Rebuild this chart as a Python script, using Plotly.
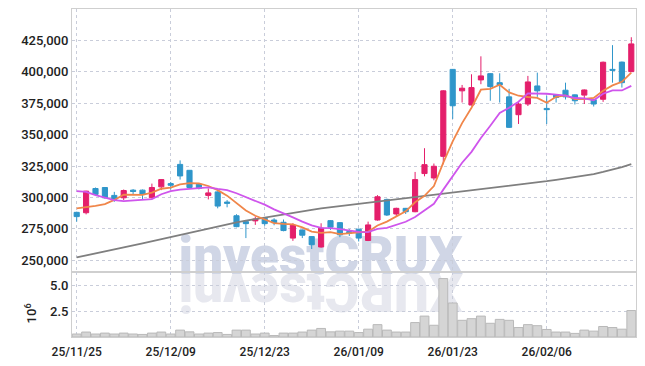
import plotly.graph_objects as go
from plotly.subplots import make_subplots

# ---------------- data ----------------
dates = [
    "25/11/25", "25/11/26", "25/11/27", "25/11/28", "25/12/01", "25/12/02", "25/12/03", "25/12/04",
    "25/12/05", "25/12/08", "25/12/09", "25/12/10", "25/12/11", "25/12/12", "25/12/15", "25/12/16",
    "25/12/17", "25/12/18", "25/12/19", "25/12/22", "25/12/23", "25/12/24", "25/12/26", "25/12/29",
    "25/12/30", "26/01/02", "26/01/05", "26/01/06", "26/01/07", "26/01/08", "26/01/09", "26/01/12",
    "26/01/13", "26/01/14", "26/01/15", "26/01/16", "26/01/19", "26/01/20", "26/01/21", "26/01/22",
    "26/01/23", "26/01/26", "26/01/27", "26/01/28", "26/01/29", "26/01/30", "26/02/02", "26/02/03",
    "26/02/04", "26/02/05", "26/02/06", "26/02/09", "26/02/10", "26/02/11", "26/02/12", "26/02/13",
    "26/02/19", "26/02/20", "26/02/23", "26/02/24",
]

# prices in thousands of won
open_k = [
    288.1, 287.8, 307.1, 307.9, 301.6, 299.7, 305.8, 305.8, 299.7, 308.4,
    311.0, 326.3, 321.6, 310.5, 301.6, 304.4, 296.3, 285.4, 280.7, 281.3,
    283.4, 282.0, 280.2, 267.6, 274.1, 268.8, 260.5, 281.5, 279.9, 272.8,
    274.7, 265.7, 282.0, 298.4, 286.8, 291.3, 288.6, 319.0, 315.5, 332.7,
    402.0, 384.9, 373.6, 393.6, 398.6, 391.4, 380.1, 365.9, 374.4, 388.8,
    370.9, 381.7, 385.4, 381.7, 381.5, 377.8, 378.2, 402.0, 407.8, 400.2,
]
high_k = [
    288.6, 305.3, 307.9, 308.2, 304.4, 306.3, 306.6, 306.3, 311.0, 314.6,
    312.3, 329.5, 321.6, 310.8, 307.1, 304.9, 297.9, 286.6, 281.0, 284.7,
    283.8, 283.4, 282.4, 279.4, 274.4, 269.2, 279.4, 282.0, 280.4, 274.7,
    275.0, 280.7, 301.8, 299.0, 291.8, 291.6, 320.3, 339.2, 327.0, 385.4,
    402.3, 389.6, 398.1, 412.4, 399.0, 398.9, 386.5, 376.5, 396.8, 399.4,
    381.0, 382.0, 391.4, 382.0, 386.0, 378.2, 408.2, 421.3, 408.2, 427.6,
]
low_k = [
    280.7, 286.5, 301.8, 299.0, 296.5, 297.9, 302.4, 297.9, 299.2, 305.8,
    306.3, 314.2, 307.9, 306.3, 298.4, 291.3, 292.1, 276.2, 267.6, 278.1,
    277.5, 277.8, 273.0, 265.4, 267.6, 258.9, 260.0, 274.1, 268.3, 269.3,
    264.9, 265.2, 281.5, 285.2, 284.7, 286.8, 288.2, 316.8, 313.6, 326.4,
    362.5, 375.6, 373.2, 390.2, 377.0, 375.6, 355.3, 358.5, 372.8, 380.1,
    358.5, 375.6, 378.0, 374.0, 374.4, 372.4, 376.1, 391.4, 387.5, 399.8,
]
close_k = [
    284.7, 305.0, 302.4, 299.7, 298.4, 305.5, 304.7, 302.4, 307.9, 314.2,
    309.7, 317.1, 307.9, 307.1, 303.6, 293.1, 295.3, 276.7, 279.1, 282.8,
    279.1, 279.9, 273.6, 277.8, 269.9, 262.3, 275.5, 276.3, 270.2, 271.5,
    267.6, 278.1, 300.5, 286.0, 291.3, 288.6, 314.2, 326.1, 324.8, 384.9,
    373.0, 387.0, 387.5, 396.8, 388.3, 389.6, 355.8, 374.4, 392.0, 384.9,
    369.9, 379.6, 380.1, 377.0, 385.6, 374.4, 407.7, 401.3, 391.4, 422.3,
]

# moving average lines (thousands of won)
ma_short_k = [
    291.3, 292.1, 293.3, 294.7, 298.0, 302.2, 302.1, 302.1, 303.8, 306.9,
    307.8, 310.3, 311.4, 311.2, 309.1, 305.8, 301.4, 295.2, 289.6, 285.4,
    282.6, 279.5, 278.9, 278.6, 276.1, 272.7, 271.8, 272.4, 270.8, 271.2,
    272.2, 272.7, 277.6, 280.7, 284.7, 288.9, 296.1, 301.2, 309.0, 327.7,
    344.6, 359.2, 371.4, 385.8, 386.5, 389.8, 383.6, 381.0, 380.0, 379.3,
    375.4, 380.2, 381.3, 378.3, 378.4, 379.3, 385.0, 389.2, 392.1, 399.4,
]
ma_mid_k = [
    305.0, 304.4, 301.8, 299.7, 297.9, 297.1, 297.6, 297.9, 298.7, 302.5,
    305.0, 306.2, 306.8, 307.5, 308.0, 306.8, 305.8, 303.3, 300.4, 297.2,
    294.2, 290.5, 287.0, 284.1, 280.7, 277.7, 275.7, 275.6, 274.7, 273.6,
    272.5, 272.3, 275.0, 275.8, 277.9, 280.6, 284.4, 289.4, 294.9, 306.2,
    316.8, 327.6, 336.3, 347.4, 357.1, 367.2, 371.4, 376.2, 382.9, 382.9,
    382.6, 381.9, 381.1, 379.2, 378.9, 377.4, 382.6, 385.3, 385.2, 388.9,
]
ma_long_k = [
    252.2, 253.7, 255.3, 256.9, 258.5, 260.1, 261.7, 263.3, 265.0, 266.7,
    268.4, 270.2, 272.0, 273.8, 275.5, 277.2, 278.8, 280.2, 281.5, 282.8,
    284.1, 285.3, 286.5, 287.7, 288.9, 290.1, 291.2, 292.1, 293.0, 293.8,
    294.6, 295.4, 296.2, 297.0, 297.9, 298.9, 299.9, 300.8, 301.7, 302.6,
    303.4, 304.3, 305.2, 306.1, 307.0, 307.9, 308.9, 309.9, 311.0, 312.0,
    312.9, 314.0, 315.0, 316.0, 317.2, 318.6, 320.3, 322.1, 324.2, 326.5,
]

# volume in millions of shares
volume_m = [
    0.29, 0.48, 0.29, 0.38, 0.29, 0.38, 0.29, 0.25, 0.38, 0.48,
    0.29, 0.67, 0.50, 0.29, 0.38, 0.43, 0.25, 0.67, 0.67, 0.29,
    0.38, 0.14, 0.38, 0.38, 0.48, 0.67, 0.83, 0.50, 0.57, 0.57,
    0.43, 0.76, 1.20, 0.67, 0.48, 0.48, 1.40, 2.03, 1.14, 5.67,
    3.30, 1.62, 1.78, 2.03, 1.33, 1.71, 1.62, 0.92, 1.20, 1.10,
    0.73, 0.48, 0.48, 0.35, 0.67, 0.57, 1.02, 0.92, 0.76, 2.57,
]

tick_dates = ["25/11/25", "25/12/09", "25/12/23", "26/01/09", "26/01/23", "26/02/06"]
price_ticks = [250000, 275000, 300000, 325000, 350000, 375000, 400000, 425000]
volume_ticks = [2.5, 5.0]


def won(values):
    return [v * 1000 for v in values]


# ---------------- style ----------------
UP = "#e41f6b"
DOWN = "#2f96ca"
GRID = "#c9cdda"
FRAME = "#cfcfcf"
FONT = "Roboto"

fig = make_subplots(rows=2, cols=1, shared_xaxes=True, vertical_spacing=0,
                    row_heights=[0.8006, 0.1994])

fig.add_trace(go.Candlestick(
    x=dates, open=won(open_k), high=won(high_k), low=won(low_k), close=won(close_k),
    increasing=dict(line=dict(color=UP, width=1), fillcolor=UP),
    decreasing=dict(line=dict(color=DOWN, width=1), fillcolor=DOWN),
    whiskerwidth=0, showlegend=False, hoverinfo="skip",
), row=1, col=1)

fig.add_trace(go.Scatter(x=dates, y=won(ma_long_k), mode="lines",
                         line=dict(color="#7f7f7f", width=1.8), showlegend=False), row=1, col=1)
fig.add_trace(go.Scatter(x=dates, y=won(ma_short_k), mode="lines",
                         line=dict(color="#f0864a", width=1.8), showlegend=False), row=1, col=1)
fig.add_trace(go.Scatter(x=dates, y=won(ma_mid_k), mode="lines",
                         line=dict(color="#cf55ec", width=1.8), showlegend=False), row=1, col=1)

fig.add_trace(go.Bar(x=dates, y=volume_m, marker=dict(color="#d5d5d5", line=dict(color="#b9b9b9", width=1)),
                     showlegend=False), row=2, col=1)

axis_font = dict(family=FONT, size=13, color="#222222", weight=500)
x_font = dict(family=FONT, size=12, color="#222222", weight=500)
common_x = dict(type="category", range=[-0.5, len(dates) - 0.5], tickvals=tick_dates,
                showgrid=True, gridcolor=GRID, griddash="dot", gridwidth=1,
                showline=True, linecolor=FRAME, linewidth=1, mirror=True,
                ticks="", zeroline=False, tickfont=x_font, automargin=False)
fig.update_xaxes(**common_x)
fig.update_xaxes(showticklabels=False, rangeslider=dict(visible=False), row=1, col=1)
fig.update_xaxes(showticklabels=True, ticklabelstandoff=4, row=2, col=1)

common_y = dict(showgrid=True, gridcolor=GRID, griddash="dot", gridwidth=1,
                showline=True, linecolor=FRAME, linewidth=1, mirror=True,
                ticks="", zeroline=False, tickfont=axis_font, ticklabelstandoff=0,
                automargin=False)
fig.update_yaxes(range=[240900, 450100], tickvals=price_ticks, tickformat=",d",
                 row=1, col=1, **common_y)
fig.update_yaxes(range=[0, 6.35], tickvals=volume_ticks, tickformat=".1f",
                 row=2, col=1, **common_y)

# watermark (behind the data) and its reflection
fig.add_shape(type="rect", xref="paper", yref="paper", x0=0.19, x1=0.692, y0=0.197, y1=0.322,
              line=dict(width=0), fillcolor="rgba(0,0,0,0)", layer="below",
              label=dict(text="investCRUX", textposition="middle center", padding=0,
                         font=dict(family=FONT, size=53, color="#d0d6e6", weight=900)))
fig.add_shape(type="rect", xref="paper", yref="paper", x0=0.19, x1=0.692, y0=0.062, y1=0.187,
              line=dict(width=0), fillcolor="rgba(0,0,0,0)", layer="below",
              label=dict(text="XURCtsevni", textposition="middle center", padding=0, textangle=180,
                         font=dict(family=FONT, size=53, color="#e7e8ef", weight=900)))

fig.add_annotation(text="10<sup>6</sup>", xref="paper", yref="paper", x=-0.0727, y=0.072,
                   xanchor="center", yanchor="middle", textangle=-90, showarrow=False,
                   font=dict(family=FONT, size=13, color="#222222", weight=500))

# the page body adds an 8px offset; size the figure so the plot lands where the reference has it
fig.update_layout(
    width=637, height=358,
    margin=dict(l=64, r=9, t=1, b=28.5),
    paper_bgcolor="white", plot_bgcolor="white",
    bargap=0.06, boxgap=0.22, showlegend=False, hovermode=False,
)

fig.write_html("out.html")
